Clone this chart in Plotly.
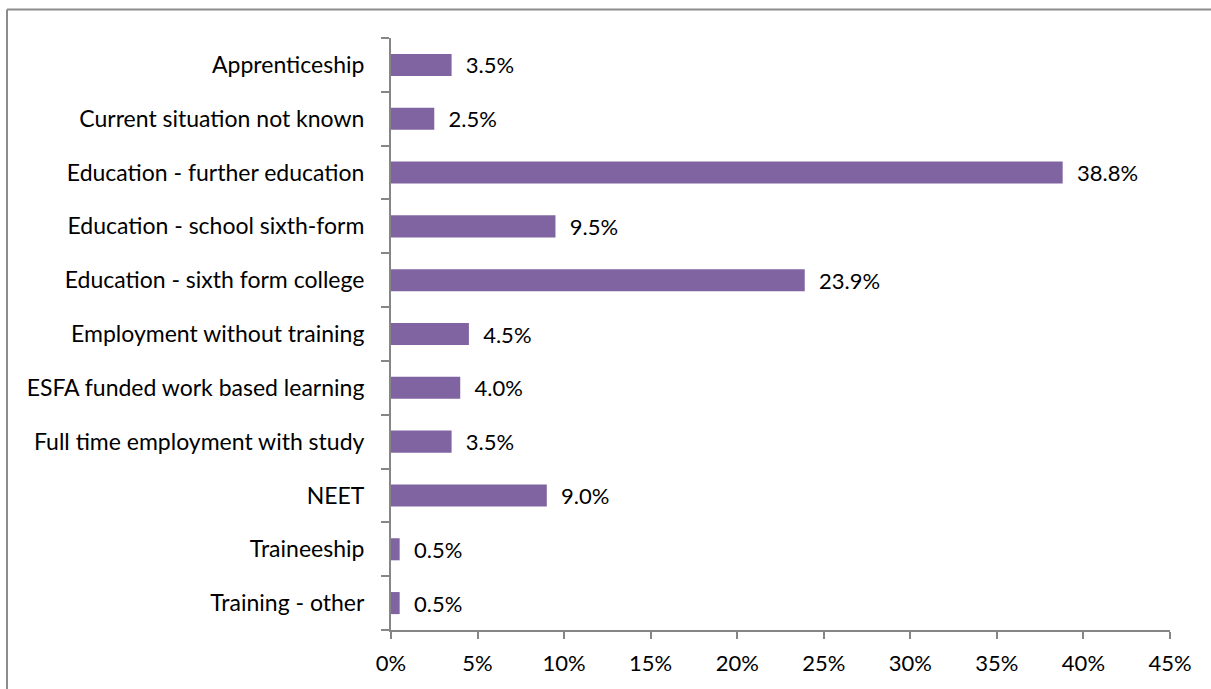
import plotly.graph_objects as go

categories = [
    "Apprenticeship",
    "Current situation not known",
    "Education - further education",
    "Education - school sixth-form",
    "Education - sixth form college",
    "Employment without training",
    "ESFA funded work based learning",
    "Full time employment with study",
    "NEET",
    "Traineeship",
    "Training - other",
]
values = [3.5, 2.5, 38.8, 9.5, 23.9, 4.5, 4.0, 3.5, 9.0, 0.5, 0.5]
tick_vals = [0, 5, 10, 15, 20, 25, 30, 35, 40, 45]
tick_text = [f"{v}%" for v in tick_vals]

W, H = 1211, 689
L, R, T, B = 391, 41, 38, 59
pw, ph = W - L - R, H - T - B

FONT = "Lato, Calibri, Carlito, sans-serif"
FS = 22
AX = "#868686"
BORDER = "#8c8c8c"

fig = go.Figure(
    go.Bar(
        x=values,
        y=categories,
        orientation="h",
        marker=dict(color="#8064A2", line=dict(width=0)),
        text=[f"{v:.1f}%" for v in values],
        texttemplate="  %{text}",
        textposition="outside",
        constraintext="none",
        cliponaxis=False,
        textfont=dict(family=FONT, size=FS, color="#000000"),
        hoverinfo="skip",
    )
)

x_left = (7 - L) / pw
y_top = (H - B - 9.5) / ph

fig.update_layout(
    width=W,
    height=H,
    margin=dict(l=L, r=R, t=T, b=B),
    paper_bgcolor="white",
    plot_bgcolor="white",
    bargap=0.59,
    showlegend=False,
    font=dict(family=FONT, size=FS, color="#000000"),
    xaxis=dict(
        range=[0, 45],
        tickvals=tick_vals,
        ticktext=tick_text,
        showgrid=False,
        zeroline=False,
        showline=True,
        linecolor=AX,
        linewidth=2,
        ticks="outside",
        ticklen=7,
        tickwidth=2,
        tickcolor=AX,
        tickfont=dict(family=FONT, size=FS, color="#000000"),
        ticklabelstandoff=6,
        fixedrange=True,
    ),
    yaxis=dict(
        categoryorder="array",
        categoryarray=categories[::-1],
        autorange=False,
        range=[-0.5, len(categories) - 0.5],
        showgrid=False,
        zeroline=False,
        showline=True,
        linecolor=AX,
        linewidth=2,
        ticks="outside",
        tickson="boundaries",
        ticklen=8,
        tickwidth=2,
        tickcolor=AX,
        tickfont=dict(family=FONT, size=23, color="#000000"),
        ticklabelstandoff=20,
        fixedrange=True,
    ),
    shapes=[
        dict(type="line", xref="paper", yref="paper",
             x0=x_left, x1=(W + 50 - L) / pw, y0=y_top, y1=y_top,
             line=dict(color=BORDER, width=2), layer="above"),
        dict(type="line", xref="paper", yref="paper",
             x0=x_left, x1=x_left, y0=y_top, y1=(H - B - (H + 50)) / ph,
             line=dict(color=BORDER, width=2), layer="above"),
    ],
)

fig.write_html(
    "out.html",
    config={"displayModeBar": False},
    post_script="document.body.style.margin='0';document.body.style.overflow='hidden';",
)
